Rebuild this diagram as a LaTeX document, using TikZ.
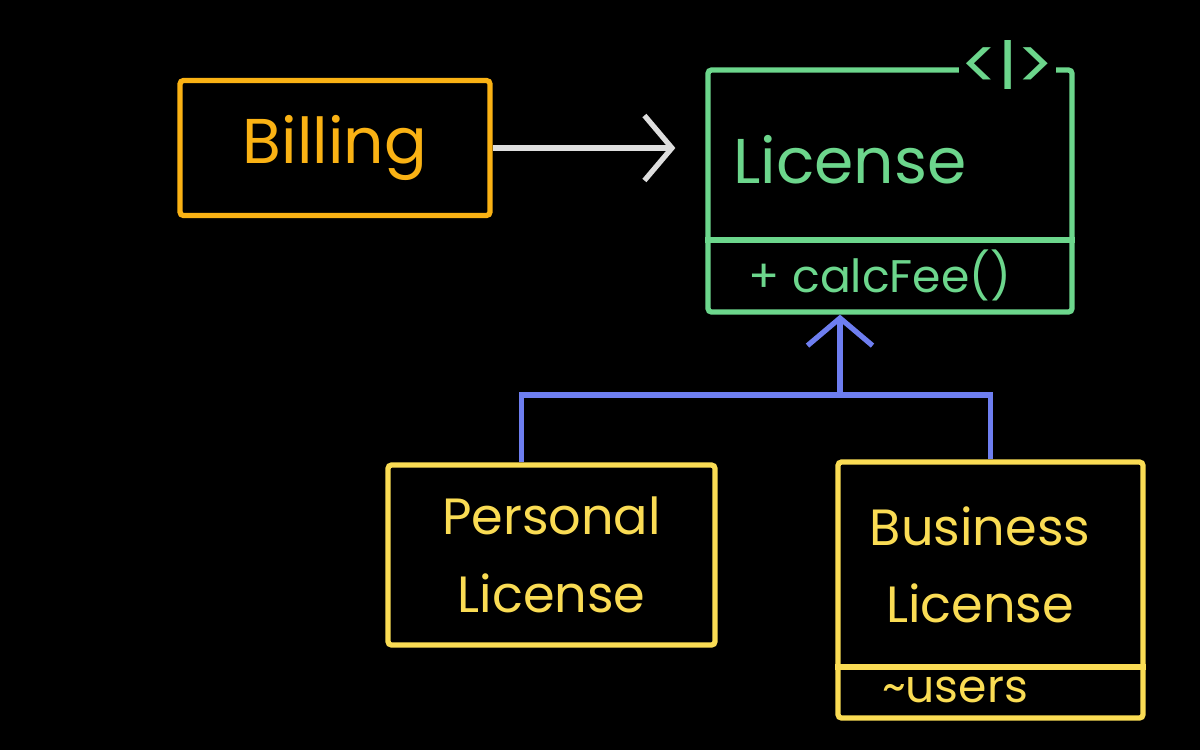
\documentclass[tikz,border=0pt]{standalone}
\usepackage{fontspec}
\setmainfont{Poppins}
\usetikzlibrary{arrows.meta,positioning}

\definecolor{billorange}{RGB}{250,178,20}
\definecolor{licgreen}{RGB}{108,214,140}
\definecolor{inhblue}{RGB}{110,126,240}
\definecolor{subyellow}{RGB}{250,220,84}
\definecolor{assocgrey}{RGB}{222,222,222}

\tikzset{
  classbox/.style={draw, line width=3pt, rounded corners=2pt, inner sep=0pt},
  bigtext/.style={font=\fontsize{36}{40}\selectfont},
  midtext/.style={font=\fontsize{29}{44}\selectfont, align=center},
  smalltext/.style={font=\fontsize{26}{30}\selectfont},
  openhead/.style={-{Straight Barb[length=0.55cm,width=1.3cm,line width=3pt]}}
}

\begin{document}
\begin{tikzpicture}
\fill[black] (0,0) rectangle (24,-15);
\useasboundingbox (0,0) rectangle (24,-15);

% Billing
\node[classbox, billorange, minimum width=6.2cm, minimum height=2.7cm] (billing) at (6.7,-2.96) {};
\node[bigtext, billorange] (billingname) at (billing.center) {Billing};

% Interface License
\node[classbox, licgreen, minimum width=7.28cm, minimum height=4.84cm] (license) at (17.8,-3.82) {};
\draw[licgreen, line width=3pt] (license.west |- 0,-4.8) -- (license.east |- 0,-4.8);
\node[bigtext, licgreen] (licensename) at (17,-3.2) {License};
\node[smalltext, licgreen] (calcfee) at (17.6,-5.5) {+ calcFee()};
\node[licgreen, fill=black, inner sep=1pt, font=\fontsize{40}{44}\selectfont] (iface) at (20.15,-1.3) {<I>};

% Billing -> License
\draw[assocgrey, line width=3pt, openhead, shorten >=0.6cm] (billing.east) -- (license.west |- billing.east);

% subclasses
\node[classbox, subyellow, minimum width=6.54cm, minimum height=3.6cm] (personal) at (11.03,-11.1) {};
\node[midtext, subyellow] (personalname) at (personal.center) {Personal\\License};

\node[classbox, subyellow, minimum width=6.1cm, minimum height=5.12cm] (business) at (19.81,-11.8) {};
\draw[subyellow, line width=3pt] (business.west |- 0,-13.34) -- (business.east |- 0,-13.34);
\node[midtext, subyellow] (businessname) at (19.6,-11.3) {Business\\License};
\node[smalltext, subyellow] (users) at (19.1,-13.8) {\char`\~users};

% inheritance
\coordinate (join) at (16.8,-7.9);
\draw[inhblue, line width=3pt, openhead] (join) -- (join |- license.south);
\draw[inhblue, line width=3pt] ([xshift=-0.6cm]personal.north) |- (join) -| (business.north);
\end{tikzpicture}
\end{document}
